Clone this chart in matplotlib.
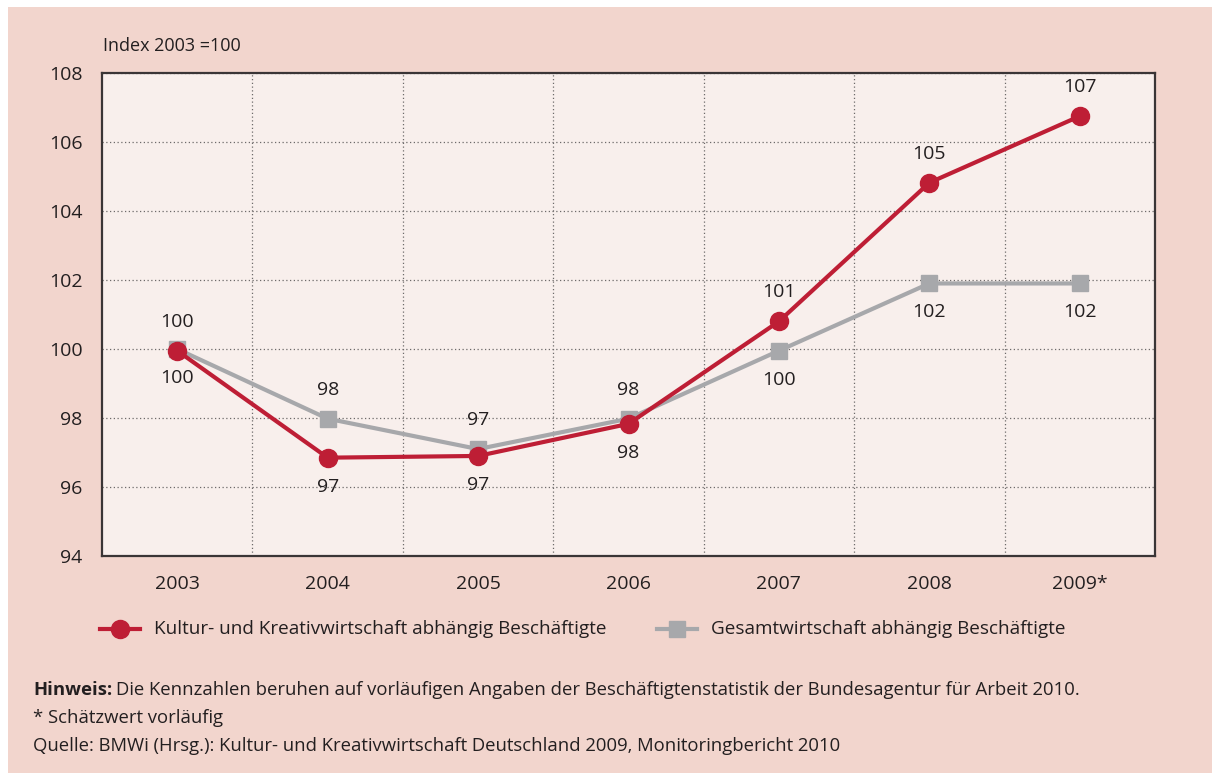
import matplotlib.pyplot as plt
from matplotlib.patches import Rectangle
from matplotlib.lines import Line2D

# Data (Index 2003 = 100)
years = ["2003", "2004", "2005", "2006", "2007", "2008", "2009*"]
kultur = [99.95, 96.85, 96.9, 97.83, 100.8, 104.82, 106.75]
gesamt = [100.0, 97.98, 97.1, 97.98, 99.95, 101.9, 101.9]
kultur_labels = ["100", "97", "97", "98", "101", "105", "107"]
gesamt_labels = ["100", "98", "97", "98", "100", "102", "102"]
# +1 = label above the point, -1 = below
kultur_side = [1, -1, -1, -1, 1, 1, 1]
gesamt_side = [-1, 1, 1, 1, -1, -1, -1]

red = "#be1e35"
grey = "#a7a8ab"
bg = "#f2d5cd"
plotbg = "#f8efec"
txt = "#231f20"

plt.rcParams["font.family"] = ["Open Sans", "DejaVu Sans"]

W, H = 1212, 773
fig = plt.figure(figsize=(W / 100, H / 100), dpi=100)
fig.patch.set_facecolor("white")
fig.patches.append(Rectangle((8 / W, 0), 1 - 8 / W, 1 - 7 / H, transform=fig.transFigure,
                             facecolor=bg, edgecolor="none", zorder=-10))

ax = fig.add_axes([102 / W, 1 - 556 / H, (1155 - 102) / W, (556 - 73) / H])
ax.set_facecolor(plotbg)
x = list(range(len(years)))

ax.plot(x, gesamt, color=grey, lw=3, marker="s", ms=11, zorder=3, solid_capstyle="butt")
ax.plot(x, kultur, color=red, lw=3, marker="o", ms=13, zorder=4)

for i in x:
    ax.annotate(kultur_labels[i], (i, kultur[i]), xytext=(0, 29 * kultur_side[i]),
                textcoords="offset pixels", ha="center", va="center", fontsize=14, color=txt)
    ax.annotate(gesamt_labels[i], (i, gesamt[i]), xytext=(0, 29 * gesamt_side[i]),
                textcoords="offset pixels", ha="center", va="center", fontsize=14, color=txt)

ax.set_xlim(-0.5, len(years) - 0.5)
ax.set_ylim(94, 108)
ax.set_yticks(range(94, 109, 2))
ax.set_xticks(x)
ax.set_xticklabels(years)
ax.set_xticks([i + 0.5 for i in x[:-1]], minor=True)
ax.tick_params(axis="both", which="both", length=0, labelsize=14, colors=txt)
ax.tick_params(axis="x", pad=14)
ax.tick_params(axis="y", pad=14)
ax.grid(True, axis="y", which="major", ls=(0, (1, 2)), color="#6d6a6a", lw=0.9)
ax.grid(True, axis="x", which="minor", ls=(0, (1, 2)), color="#6d6a6a", lw=0.9)
ax.grid(False, axis="x", which="major")
for s in ax.spines.values():
    s.set_color("#3a3536")
    s.set_linewidth(1.6)

fig.text(103 / W, 1 - 46 / H, "Index 2003 =100", fontsize=13, color=txt, va="center")

# legend drawn by hand below the axis
def legend_item(x0, marker, color, ms, label):
    y = 1 - 629 / H
    fig.add_artist(Line2D([x0 / W, (x0 + 40) / W], [y, y], transform=fig.transFigure,
                          color=color, lw=3))
    fig.add_artist(Line2D([(x0 + 20) / W], [y], transform=fig.transFigure, color=color,
                          marker=marker, ms=ms, lw=0))
    fig.text((x0 + 54) / W, y, label, fontsize=13.6, color=txt, va="center")

legend_item(100, "o", red, 13, "Kultur- und Kreativwirtschaft abhängig Beschäftigte")
legend_item(657, "s", grey, 11, "Gesamtwirtschaft abhängig Beschäftigte")

hw = fig.text(33 / W, 1 - 690 / H, "Hinweis:", fontsize=13.3, fontweight="bold", color=txt, va="center")
bb = hw.get_window_extent(renderer=fig.canvas.get_renderer())
fig.text((bb.x1 + 4) / W, 1 - 690 / H,
         "Die Kennzahlen beruhen auf vorläufigen Angaben der Beschäftigtenstatistik der Bundesagentur für Arbeit 2010.",
         fontsize=13.3, color=txt, va="center")
fig.text(33 / W, 1 - 718 / H, "* Schätzwert vorläufig", fontsize=13.3, color=txt, va="center")
fig.text(33 / W, 1 - 746 / H,
         "Quelle: BMWi (Hrsg.): Kultur- und Kreativwirtschaft Deutschland 2009, Monitoringbericht 2010",
         fontsize=13.3, color=txt, va="center")

fig.savefig("out.png", dpi=100, facecolor=fig.get_facecolor())
